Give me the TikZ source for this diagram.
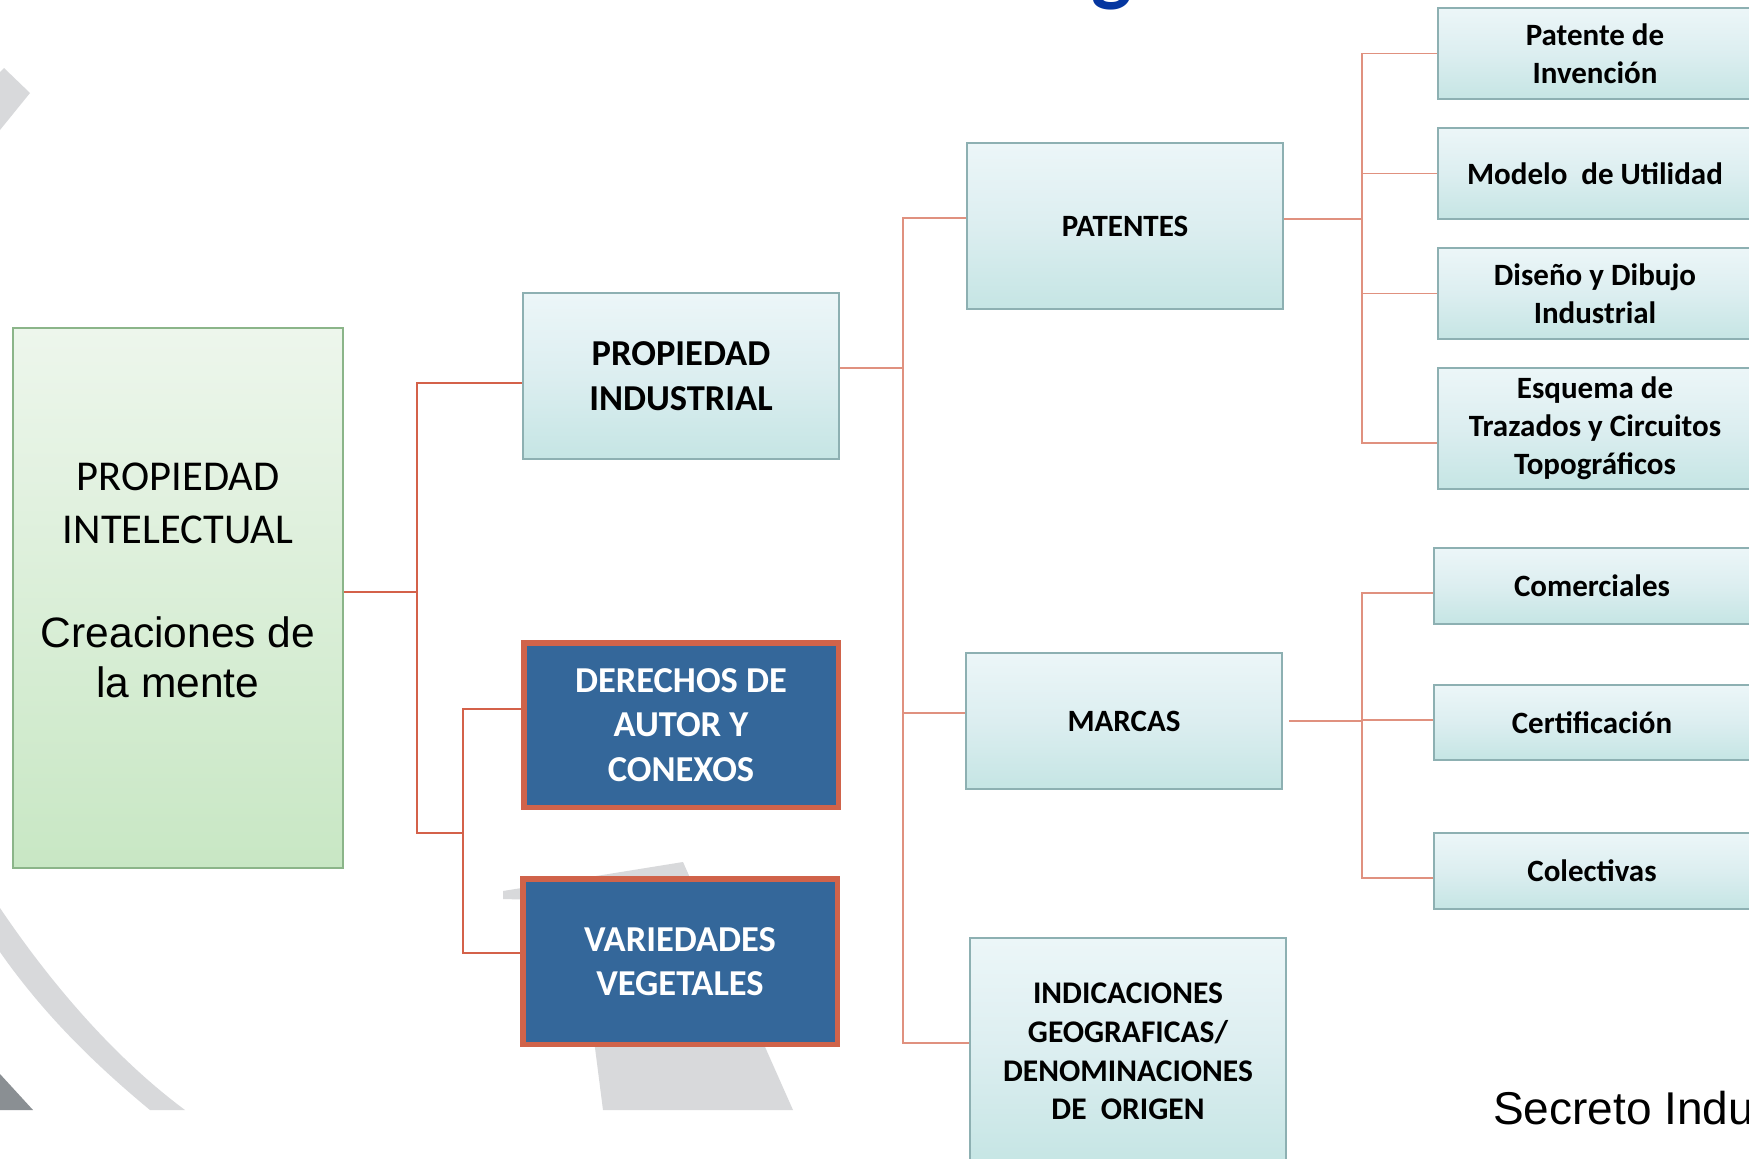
\documentclass[tikz,border=0pt]{standalone}
\usepackage{fontspec}
\setmainfont{Carlito}
\newfontfamily\arialf{Liberation Sans}
\usetikzlibrary{calc}
\definecolor{lred}{HTML}{D4614A}
\definecolor{rred}{HTML}{E0917F}
\definecolor{bluefill}{HTML}{34679A}
\definecolor{blueedge}{HTML}{D0634A}
\definecolor{tealedge}{HTML}{8DB0B2}
\definecolor{tealtop}{HTML}{ECF6F8}
\definecolor{tealmid}{HTML}{DCEEF0}
\definecolor{tealbot}{HTML}{C5E5E4}
\definecolor{greentop}{HTML}{EDF6EC}
\definecolor{greenbot}{HTML}{C8E7C4}
\definecolor{greenedge}{HTML}{8BB589}
\definecolor{graylight}{HTML}{D8D9DB}
\definecolor{graydark}{HTML}{8A8F93}
\definecolor{titleblue}{HTML}{0536A0}
\tikzset{
  tealbox/.style={draw=tealedge, line width=2.5pt, top color=tealtop, bottom color=tealbot, middle color=tealmid,
    inner sep=0pt, align=center, text=black, font=\bfseries\fontsize{31}{38}\selectfont},
  bluebox/.style={draw=blueedge, line width=5.5pt, fill=bluefill, inner sep=0pt, align=center, text=white,
    font=\bfseries\fontsize{36.5}{44.5}\selectfont},
  greenbox/.style={draw=greenedge, line width=2.5pt, top color=greentop, bottom color=greenbot, inner sep=0pt},
  lconn/.style={draw=lred, line width=2.5pt},
  rconn/.style={draw=rred, line width=1.5pt},
}
\begin{document}
\begin{tikzpicture}[x=1pt,y=-1pt]
\useasboundingbox (0,0) rectangle (1749,1159);
\clip (0,0) rectangle (1749,1159);
\fill[white] (0,0) rectangle (1749,1159);
% background decorations
\begin{scope}
\clip (0,0) rectangle (1749,1110);
\fill[graylight] (0,72) -- (4,68) -- (30,93) -- (0,130) -- cycle;
\fill[graylight] (0,908) .. controls (52,985) and (115,1058) .. (185,1110) -- (150,1110)
   .. controls (92,1062) and (42,1012) .. (0,952) -- cycle;
\fill[graydark] (0,1074) -- (33,1110) -- (0,1110) -- cycle;
\fill[graylight] (503,891) -- (683,862) -- (793,1110) -- (603,1110) -- (594,1040) -- (540,900) -- (503,899) -- cycle;
\end{scope}
% title fragment
\node[anchor=base, text=titleblue, font=\bfseries\fontsize{86}{86}\selectfont, inner sep=0pt] (ttl) at (1112,-5) {g};
% boxes
\node[greenbox, minimum width=330pt, minimum height=540pt] (pint) at (178,598) {};
\node[anchor=base, inner sep=0pt, font=\fontsize{42.5}{42.5}\selectfont] (pint1) at (178,490.7) {PROPIEDAD};
\node[anchor=base, inner sep=0pt, font=\fontsize{42.5}{42.5}\selectfont] (pint2) at (178,543) {INTELECTUAL};
\node[anchor=base, inner sep=0pt, font=\arialf\fontsize{42.5}{42.5}\selectfont] (pint3) at (178,647) {Creaciones de};
\node[anchor=base, inner sep=0pt, font=\arialf\fontsize{42.5}{42.5}\selectfont] (pint4) at (178,697) {la mente};

\node[tealbox, minimum width=316pt, minimum height=166pt, font=\bfseries\fontsize{36.5}{45}\selectfont] (pi) at (681,376) {PROPIEDAD\\INDUSTRIAL};
\node[bluebox, minimum width=314.5pt, minimum height=164.5pt] (der) at (681,725) {DERECHOS DE\\AUTOR Y\\CONEXOS};
\node[bluebox, minimum width=314.5pt, minimum height=165.5pt] (var) at (680,961.5) {VARIEDADES\\VEGETALES};

\node[tealbox, minimum width=316pt, minimum height=166pt] (pat) at (1125,226) {PATENTES};
\node[tealbox, minimum width=316pt, minimum height=136pt] (mar) at (1124,721) {MARCAS};
\node[tealbox, minimum width=316pt, minimum height=227pt, font=\bfseries\fontsize{31.5}{38.7}\selectfont] (ind) at (1128,1051.5) {INDICACIONES\\GEOGRAFICAS/\\DENOMINACIONES\\DE~ ORIGEN};

\node[tealbox, minimum width=314pt, minimum height=91pt] (r1) at (1595,53.5) {Patente de\\Invención};
\node[tealbox, minimum width=314pt, minimum height=91pt] (r2) at (1595,173.5) {Modelo~ de Utilidad};
\node[tealbox, minimum width=314pt, minimum height=91pt] (r3) at (1595,293.5) {Diseño y Dibujo\\Industrial};
\node[tealbox, minimum width=314pt, minimum height=121pt] (r4) at (1595,428.5) {Esquema de\\Trazados y Circuitos\\Topográficos};

\node[tealbox, minimum width=316pt, minimum height=76pt] (m1) at (1592,586) {Comerciales};
\node[tealbox, minimum width=316pt, minimum height=75pt] (m2) at (1592,722.5) {Certificación};
\node[tealbox, minimum width=316pt, minimum height=76pt] (m3) at (1592,871) {Colectivas};

\node[anchor=base west, inner sep=0pt, font=\arialf\fontsize{46}{46}\selectfont] (sec) at (1493,1124) {Secreto Industrial};

% left tree
\coordinate (jG) at (417,592);
\coordinate (jT) at (417,383);
\coordinate (jB) at (417,833);
\coordinate (sB) at (463,833);
\coordinate (sT) at (463,709);
\coordinate (sV) at (463,953);
\draw[lconn] (pint.east |- jG) -- (jG);
\draw[lconn] (pi.west |- jT) -- (jT) -- (jB) -- (sB);
\draw[lconn] (der.west |- sT) -- (sT) -- (sV) -- (var.west |- sV);

% middle tree
\coordinate (mA) at (903,368);
\coordinate (mT) at (903,218);
\coordinate (mM) at (903,713);
\coordinate (mB) at (903,1043);
\draw[rconn] (pi.east |- mA) -- (mA);
\draw[rconn] (pat.west |- mT) -- (mT) -- (mB) -- (ind.west |- mB);
\draw[rconn] (mM) -- (mar.west |- mM);

% patent tree
\coordinate (pA) at (1362,219);
\coordinate (p1) at (1362,53.5);
\coordinate (p4) at (1362,443);
\draw[rconn] (pat.east |- pA) -- (pA);
\draw[rconn] (r1.west |- p1) -- (p1) -- (p4) -- (r4.west |- p4);
\draw[rconn] (r2.west) -- (r2.west -| p1);
\draw[rconn] (r3.west) -- (r3.west -| p1);

% marcas tree
\coordinate (qA) at (1362,721);
\coordinate (q1) at (1362,593);
\coordinate (q2) at (1362,720);
\coordinate (q3) at (1362,878);
\draw[rconn] ([xshift=6pt]mar.east |- qA) -- (qA);
\draw[rconn] (m1.west |- q1) -- (q1) -- (q3) -- (m3.west |- q3);
\draw[rconn] (m2.west |- q2) -- (q2);
\end{tikzpicture}
\end{document}
